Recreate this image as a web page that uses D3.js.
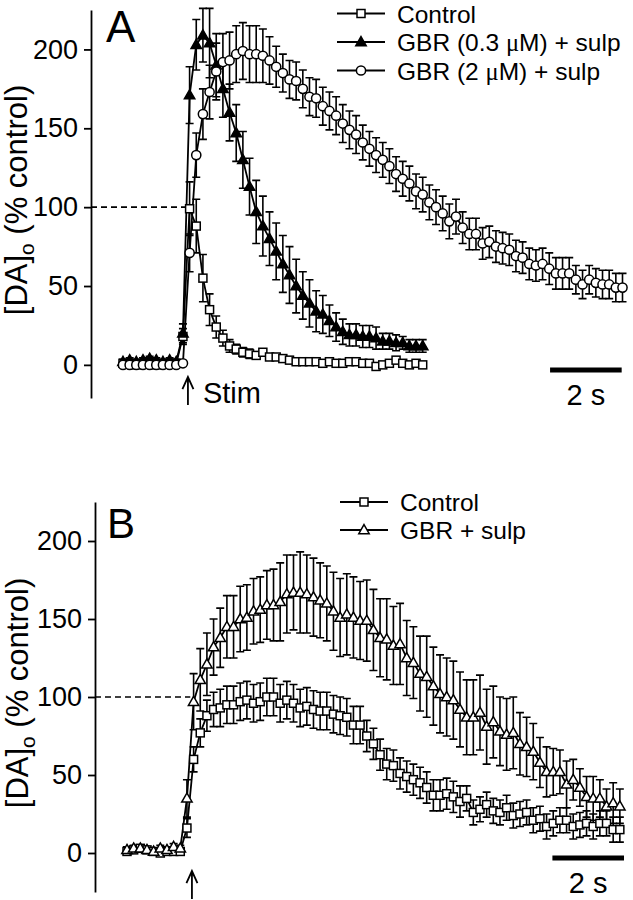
<!DOCTYPE html>
<html><head><meta charset="utf-8">
<script src="https://cdn.jsdelivr.net/npm/d3@7"></script>
<style>
body{margin:0;background:#fff}
svg text{font-family:"Liberation Sans",Arial,sans-serif;fill:#000}
</style>
</head><body>
<svg id="c" width="633" height="900"></svg>
<script>
// ---- data (sampling interval 0.2 s) ----
const DT = 0.2;
const STIM_T = 1.95;
const yTicks = [0, 50, 100, 150, 200];

// Panel A
const ctrlA = [1,1,0,1,1,0,1,1,1, 18,
  99,88,55,35,24,17,12,10,8,7, 6,8,5,5,4,3,2,2,2,2, 1,2,1,1,2,2,1,1,-1,0, 1,3,1,0,1,0];
const ctrlAErr = [1.5,1.5,1.5,1.5,1.5,1.5,1.5,1.5,1.5, 5,
  17,17,15,10,7,5,4,3,3,3, 2,2,2,2,2,2,2,2,2,2, 2,2,2,2,2,2,2,2,2,2, 2,2,2,2,2,2];
const gbr03A = [2,3,2,3,4,3,2,3,2, 20,
  171,203,209,204,190,175,160,147,130,113, 97,88,80,72,64,57,50,44,39,34,
  32,28,24,21,19,19,18,18,17,15, 15,14,14,12,12,12];
const gbr03AErr = [1.5,1.5,1.5,1.5,1.5,1.5,1.5,1.5,1.5, 6,
  18,16,17,22,20,18,18,18,18,18, 20,19,17,18,18,18,17,15,15,13,
  12,10,9,8,7,7,7,7,7,5, 5,5,4,4,4,4];
const gbr2A = [0,0,0,0,0,0,0,0,0, 1,
  71,133,159,173,186,192,193,197,199,197, 197,196,193,189,185,181,180,175,170,169,
  164,161,158,153,149,146,141,137,133,130, 126,121,118,115,110,108,103,100,96,91,
  94,87,83,83,77,78,75,74,73,69, 68,64,63,64,61,58,58,58,54,51, 54,52,51,51,49,49];
const gbr2AErr = [1.5,1.5,1.5,1.5,1.5,1.5,1.5,1.5,1.5, 1.5,
  12,14,16,17,18,18,18,18,18,18, 18,17,15,13,12,12,12,12,12,12,
  12,12,12,12,12,12,11,11,11,11, 11,11,11,11,11,11,11,11,11,11,
  11,10,10,10,10,10,10,10,10,10, 10,10,10,10,10,10,10,10,9,9, 9,9,9,9,9,9];

// Panel B
const ctrlB = [1,2,3,2,1,0,1,1,1, 16,
  60,77,88,92,93,95,95,97,98,96, 97,100,100,96,98,96,93,94,92,91,
  91,89,88,87,82,82,75,70,63,57, 56,51,49,47,45,42,37,37,38,36,
  33,35,26,28,31,27,26,29,24,25, 26,21,22,17,19,21,21,17,18,19, 17,19,19,15,15];
const ctrlBErr = [2,2,2,2,2,2,2,2,2, 6,
  8,9,10,11,12,12,12,12,12,12, 12,12,12,12,12,12,12,12,12,12,
  12,12,12,12,12,12,10,10,10,10, 10,10,10,10,10,10,10,10,10,10,
  10,8,8,8,8,8,8,8,8,8, 8,8,8,8,8,8,8,8,8,8, 8,8,8,8,8];
const gbrB = [2,3,3,2,1,3,2,4,3, 35,
  97,111,121,132,138,145,145,150,151,155, 156,159,159,161,166,167,167,166,164,162,
  160,155,151,153,151,149,149,143,138,137, 133,134,125,122,115,113,107,102,100,98,
  92,87,87,90,81,84,78,76,77,70, 68,65,58,52,52,52,44,47,42,36, 35,35,30,32,30];
const gbrBErr = [2,2,2,2,2,2,2,2,2, 12,
  18,20,20,18,19,20,20,21,21,21, 21,22,23,25,25,24,26,25,25,24,
  24,25,25,26,26,25,26,26,25,26, 25,26,24,23,24,26,25,25,25,25,
  24,24,24,24,24,23,22,23,23,20, 19,18,16,16,15,14,15,13,12,13, 14,12,11,13,11];

const legendA = ["Control", "GBR (0.3 μM) + sulp", "GBR (2 μM) + sulp"];
const legendB = ["Control", "GBR + sulp"];

// ---- drawing ----
const svg = d3.select("#c");
const FONT = '"Liberation Sans",Arial,sans-serif';

function shape(sel, type) {
  if (type === "square") {
    sel.append("rect").attr("x", -4).attr("y", -4).attr("width", 8).attr("height", 8)
      .attr("fill", "#fff").attr("stroke", "#000").attr("stroke-width", 1.5);
  } else if (type === "circle") {
    sel.append("circle").attr("r", 4.6).attr("fill", "#fff").attr("stroke", "#000").attr("stroke-width", 1.5);
  } else {
    sel.append("path").attr("d", "M0,-5.4L5.2,3.7L-5.2,3.7Z")
      .attr("fill", type === "triFilled" ? "#000" : "#fff").attr("stroke", "#000").attr("stroke-width", 1.5);
  }
}

function drawPanel(cfg) {
  const g = svg.append("g");
  const x = d3.scaleLinear().domain([0, 15]).range(cfg.xRange);
  const y = d3.scaleLinear().domain(cfg.yDomain).range(cfg.yRange);

  // axis
  const ax = g.append("g").attr("transform", `translate(${cfg.axisX},0)`)
    .call(d3.axisLeft(y).tickValues(yTicks).tickSize(7).tickSizeOuter(0).tickPadding(6));
  ax.select(".domain").attr("stroke", "#000").attr("stroke-width", 1.8);
  ax.selectAll(".tick line").attr("stroke", "#000").attr("stroke-width", 1.8);
  ax.selectAll(".tick text").attr("font-size", 27).attr("font-family", FONT).attr("fill", "#000");

  // y label
  const lab = g.append("text").attr("font-size", 31).attr("text-anchor", "middle")
    .attr("transform", `translate(${cfg.labelX},${(cfg.yRange[0] + cfg.yRange[1]) / 2 - 4}) rotate(-90)`);
  lab.append("tspan").text("[DA]");
  lab.append("tspan").attr("font-size", 21).attr("dy", 7).text("o");
  lab.append("tspan").attr("dy", -7).text(" (% control)");

  // panel letter
  g.append("text").attr("x", cfg.letterPos[0]).attr("y", cfg.letterPos[1])
    .attr("font-size", cfg.letterSize).text(cfg.letter);

  // dashed 100% reference
  g.append("line").attr("x1", cfg.axisX).attr("x2", x(STIM_T - 0.05))
    .attr("y1", y(100)).attr("y2", y(100))
    .attr("stroke", "#000").attr("stroke-width", 1.6).attr("stroke-dasharray", "6,4");

  // stim arrow
  const ax0 = x(STIM_T);
  const aTop = cfg.yRange[0] - 21, aBot = cfg.yRange[0] + 7;
  g.append("path").attr("d", `M${ax0},${aBot}V${aTop}M${ax0 - 5.5},${aTop + 12}L${ax0},${aTop}L${ax0 + 5.5},${aTop + 12}`)
    .attr("fill", "none").attr("stroke", "#000").attr("stroke-width", 1.8);
  if (cfg.stimLabel) {
    g.append("text").attr("x", ax0 + 15).attr("y", aBot - 2).attr("font-size", 29).text("Stim");
  }

  // scale bar 2 s
  g.append("line").attr("x1", x(cfg.barStart)).attr("x2", x(cfg.barStart + 2))
    .attr("y1", cfg.barY).attr("y2", cfg.barY)
    .attr("stroke", "#000").attr("stroke-width", 5).attr("stroke-linecap", "square");
  g.append("text").attr("x", x(cfg.barStart + 1)).attr("y", cfg.barY + 35)
    .attr("text-anchor", "middle").attr("font-size", 29).text("2 s");

  const line = d3.line().x(d => x(d.t)).y(d => y(d.v));
  const data = cfg.series.map(s => s.values.map((v, i) => ({ t: i * DT, v, e: s.err[i] })));

  // lines and error bars
  cfg.series.forEach((s, si) => {
    const pts = data[si];
    g.append("path").datum(pts).attr("d", line)
      .attr("fill", "none").attr("stroke", "#000").attr("stroke-width", 1.8);
    g.append("g").selectAll("path").data(pts).join("path")
      .attr("d", d => {
        const xx = x(d.t), yu = y(d.v + d.e), yl = y(d.v - d.e);
        return `M${xx},${yl}V${yu}M${xx - 4},${yu}H${xx + 4}M${xx - 4},${yl}H${xx + 4}`;
      })
      .attr("fill", "none").attr("stroke", "#000").attr("stroke-width", 1.6);
  });
  // markers
  cfg.series.forEach((s, si) => {
    g.append("g").selectAll("g").data(data[si]).join("g")
      .attr("transform", d => `translate(${x(d.t)},${y(d.v)})`)
      .each(function () { shape(d3.select(this), s.shape); });
  });

  // legend
  cfg.legend.forEach((name, i) => {
    const cy = cfg.legendY + i * cfg.legendStep;
    const lg = g.append("g");
    lg.append("line").attr("x1", cfg.legendX).attr("x2", cfg.legendX + 48)
      .attr("y1", cy).attr("y2", cy).attr("stroke", "#000").attr("stroke-width", 1.8);
    const m = lg.append("g").attr("transform", `translate(${cfg.legendX + 24},${cy})`);
    shape(m, cfg.series[i].shape);
    const t = lg.append("text").attr("x", cfg.legendX + 60).attr("y", cy + 9).attr("font-size", 24.5);
    const parts = name.split("μ");
    t.append("tspan").text(parts[0]);
    if (parts.length > 1) {
      t.append("tspan").attr("font-family", '"Liberation Serif","Times New Roman",serif').text("μ");
      t.append("tspan").text(parts[1]);
    }
  });
}

drawPanel({
  xRange: [123, 123 + 15 * 33.3],
  yDomain: [-21, 225], yRange: [398, 10],
  axisX: 91, labelX: 27,
  letter: "A", letterPos: [106, 42], letterSize: 44,
  stimLabel: true,
  barStart: 12.9, barY: 370,
  series: [
    { values: ctrlA, err: ctrlAErr, shape: "square" },
    { values: gbr03A, err: gbr03AErr, shape: "triFilled" },
    { values: gbr2A, err: gbr2AErr, shape: "circle" }
  ],
  legend: legendA, legendX: 337, legendY: 13.5, legendStep: 28.5
});

drawPanel({
  xRange: [127, 127 + 15 * 33.3],
  yDomain: [-25, 225], yRange: [892, 502],
  axisX: 95, labelX: 28,
  letter: "B", letterPos: [107, 538], letterSize: 42,
  stimLabel: false,
  barStart: 12.85, barY: 858,
  series: [
    { values: ctrlB, err: ctrlBErr, shape: "square" },
    { values: gbrB, err: gbrBErr, shape: "triOpen" }
  ],
  legend: legendB, legendX: 340, legendY: 502, legendStep: 28
});
</script>
</body></html>
